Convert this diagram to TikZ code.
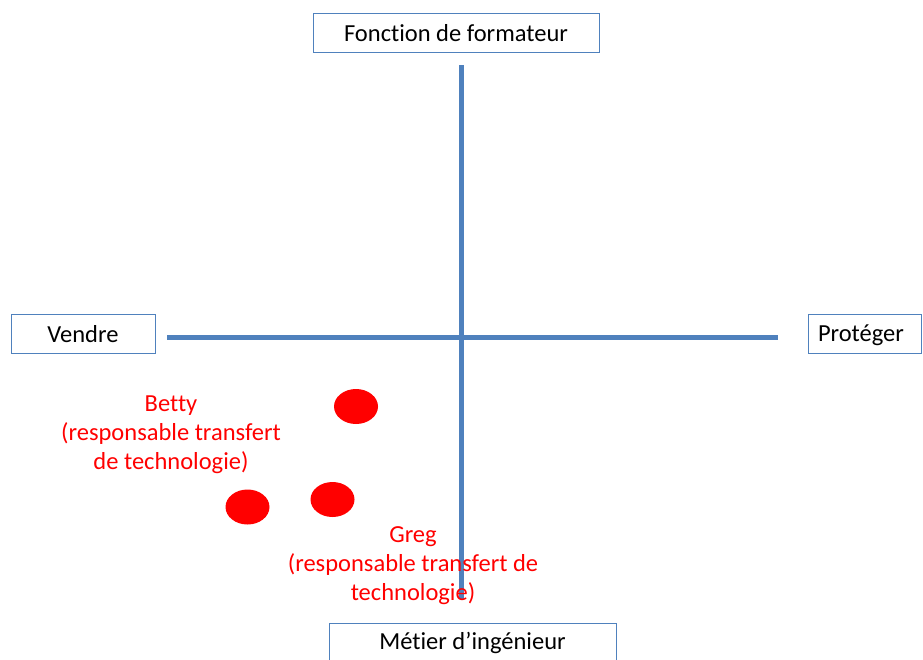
\documentclass[tikz,border=0pt]{standalone}
\usepackage{fontspec}
\setmainfont{Carlito}[Ligatures=NoCommon]
\usepackage{xcolor}
\usetikzlibrary{shapes.geometric}
\definecolor{axisblue}{HTML}{4F81BD}

\begin{document}
\begin{tikzpicture}[x=1pt,y=-1pt]
            \tikzset{axisbox/.style = {draw=axisblue, line width=0.9pt, font=\fontsize{24.5}{29}\selectfont, inner sep=0pt, minimum height=39pt}}
            \tikzset{axisline/.style = {draw=axisblue, line width=5pt}}
            \tikzset{dot/.style = {ellipse, fill=red, inner sep=0pt, minimum width=44pt, minimum height=35pt}}
            \tikzset{person/.style = {text=red, align=center, font=\fontsize{24.5}{29}\selectfont}}
            \useasboundingbox (0,0) rectangle (923,659);

            % boxes
            \node[axisbox, minimum width=286pt] (formateur) at (456,33) {Fonction de formateur};
            \node[axisbox, minimum width=144pt] (vendre) at (83,334) {Vendre};
            \node[axisbox, text width=93pt, inner xsep=10pt, align=left, text depth=0.25em] (proteger) at (864.5,334) {Protéger};
            \node[axisbox, minimum width=287pt] (ingenieur) at (472.5,643) {Métier d’ingénieur};

            % axes
            \coordinate (top) at (461,65);
            \coordinate (bottom) at (461,599);
            \coordinate (left) at (167,337);
            \coordinate (right) at (778,337);
            \draw[axisline] (top) -- (bottom);
            \draw[axisline] (left) -- (right);

            % people
            \node[dot] (d1) at (356,406.5) {};
            \node[dot] (d2) at (247.5,507) {};
            \node[dot] (d3) at (332.5,499.5) {};
            \node[person] (betty) at (171,435) {Betty\\(responsable transfert\\de technologie)};
            \node[person] (greg) at (413,566) {Greg\\(responsable transfert de\\technologie)};
\end{tikzpicture}
\end{document}
